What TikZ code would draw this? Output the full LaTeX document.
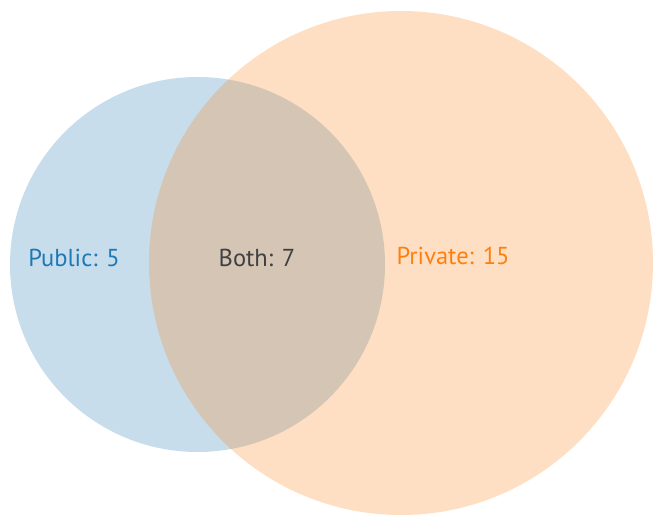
\documentclass[tikz,border=0pt]{standalone}
\usepackage{fontspec}
\setmainfont{PT Sans}
\definecolor{tabblue}{HTML}{1F77B4}
\definecolor{taborange}{HTML}{FF7F0E}
\definecolor{bothgray}{HTML}{404040}
\begin{document}
\begin{tikzpicture}[x=1pt,y=-1pt,
  setcircle/.style={fill opacity=0.25},
  lbl/.style={font=\fontsize{24.5}{28}\selectfont, inner sep=0pt, anchor=base}]
\useasboundingbox (0,0) rectangle (653,515);
\fill[tabblue, setcircle] (197.5,264.5) circle[radius=187.5];
\fill[taborange, setcircle] (401,263) circle[radius=252];
\node[lbl, text=tabblue] (pub) at (74,266) {Public: 5};
\node[lbl, text=bothgray] (both) at (257,266) {Both: 7};
\node[lbl, text=taborange] (priv) at (453,264) {Private: 15};
\end{tikzpicture}
\end{document}
